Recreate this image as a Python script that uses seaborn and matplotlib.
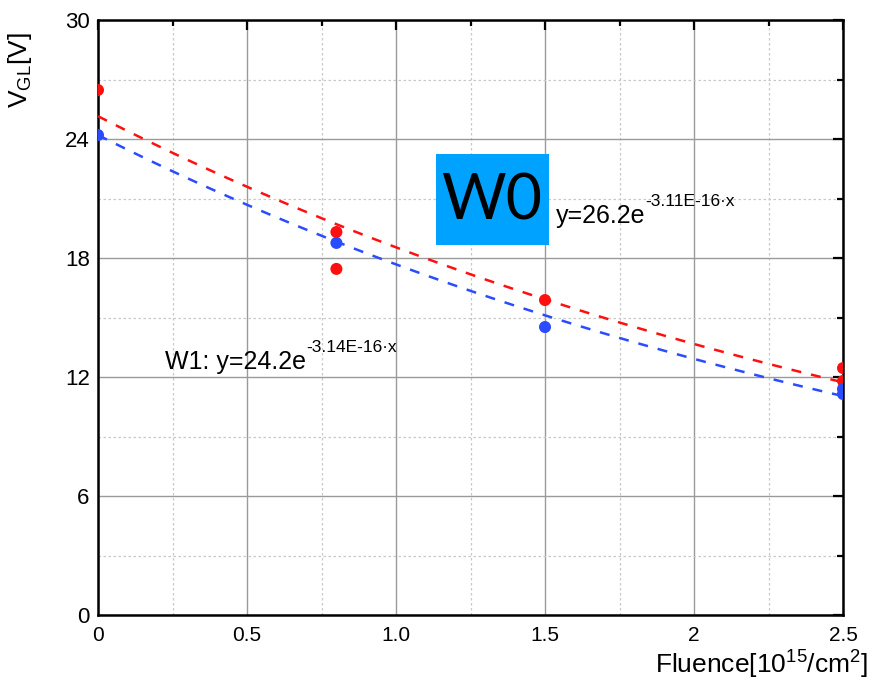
import numpy as np
import pandas as pd
import matplotlib
matplotlib.use("Agg")
import matplotlib.pyplot as plt
import seaborn as sns
from matplotlib.ticker import MultipleLocator, FixedLocator, FixedFormatter
from matplotlib.patches import Rectangle

# ---- data ----
w0_x = [0.0, 0.8, 0.8, 1.5, 2.5, 2.5]
w0_y = [26.47, 19.31, 17.45, 15.88, 12.45, 11.80]
w1_x = [0.0, 0.8, 1.5, 2.5, 2.5]
w1_y = [24.20, 18.76, 14.52, 11.40, 11.14]

# fitted exponential curves (amplitude, decay per 1e15 cm^-2) as drawn
w0_fit = (25.15, 0.305)
w1_fit = (24.20, 0.314)

x_ticks = [0, 0.5, 1.0, 1.5, 2.0, 2.5]
x_ticklabels = ["0", "0.5", "1.0", "1.5", "2", "2.5"]
y_ticks = [0, 6, 12, 18, 24, 30]

sns.set_theme(style="white")
plt.rcParams['font.family'] = ['Liberation Sans', 'DejaVu Sans']
plt.rcParams['mathtext.fontset'] = 'custom'
plt.rcParams['mathtext.rm'] = 'Liberation Sans'
plt.rcParams['mathtext.it'] = 'Liberation Sans'
plt.rcParams['text.color'] = 'black'
plt.rcParams['axes.labelcolor'] = 'black'
plt.rcParams['xtick.color'] = 'black'
plt.rcParams['ytick.color'] = 'black'

pts = pd.DataFrame({
    "x": w0_x + w1_x,
    "y": w0_y + w1_y,
    "s": ["W0"] * len(w0_x) + ["W1"] * len(w1_x),
})
xx = np.linspace(0, 2.5, 60)
fits = pd.DataFrame({
    "x": np.concatenate([xx, xx]),
    "y": np.concatenate([w0_fit[0] * np.exp(-w0_fit[1] * xx),
                         w1_fit[0] * np.exp(-w1_fit[1] * xx)]),
    "s": ["W0"] * len(xx) + ["W1"] * len(xx),
})
pal = {"W0": "#ff1010", "W1": "#2a4cff"}

fig = plt.figure(figsize=(8.77, 6.89), dpi=100)
ax = fig.add_axes([98/877, 74/689, 745/877, 595/689])

sns.lineplot(data=fits, x="x", y="y", hue="s", palette=pal, ax=ax,
             linewidth=1.8, legend=False, zorder=3)
for l in ax.lines:
    l.set_dashes([4, 4])
sns.scatterplot(data=pts, x="x", y="y", hue="s", palette=pal, ax=ax,
                s=75, edgecolor="none", legend=False, zorder=4)

ax.set_xlim(0, 2.5)
ax.set_ylim(0, 30)
ax.xaxis.set_major_locator(FixedLocator(x_ticks))
ax.xaxis.set_major_formatter(FixedFormatter(x_ticklabels))
ax.xaxis.set_minor_locator(MultipleLocator(0.25))
ax.yaxis.set_major_locator(FixedLocator(y_ticks))
ax.yaxis.set_minor_locator(MultipleLocator(3))

ax.grid(which="major", color="#9a9a9a", linewidth=1.0, linestyle="-")
ax.grid(which="minor", color="#c8c8c8", linewidth=0.9, linestyle=(0, (2, 2)))
ax.set_axisbelow(True)

for sp in ax.spines.values():
    sp.set_visible(True)
    sp.set_color("black")
    sp.set_linewidth(1.8)

ax.tick_params(which="both", direction="in", top=True, right=True,
               color="black", width=1.6)
ax.tick_params(which="major", length=7)
ax.tick_params(which="minor", length=4)
ax.tick_params(axis="y", labelsize=16, pad=6)
ax.tick_params(axis="x", labelsize=15, pad=8)

ax.set_xlabel("")
ax.set_ylabel("")
fig.text(20/877, 1 - 70/689, r"V$_{\mathrm{GL}}$[V]", rotation=90,
         ha="center", va="center", fontsize=19)

fig.text(868/877, 1 - 665/689, r"Fluence[10$^{15}$/cm$^{2}$]",
         ha="right", va="center", fontsize=19)

# W0 label box
fig.patches.append(Rectangle((436/877, 1 - 245/689), 113/877, 91/689,
                             transform=fig.transFigure, facecolor="#00a2ff",
                             edgecolor="none", zorder=5))
fig.text(492/877, 1 - 202/689, "W0", ha="center", va="center",
         fontsize=45, family=['Lato', 'Liberation Sans'], zorder=6)


def equation(x, y, main, sup):
    t = fig.text(x, y, main, ha="left", va="baseline", fontsize=18, zorder=6)
    ax.annotate(sup, xy=(1.0, 0.80), xycoords=t, ha="left", va="bottom",
                fontsize=12.5, annotation_clip=False, zorder=6)


equation(556/877, 1 - 223/689, "y=26.2e", "-3.11E-16\u00b7x")
equation(165/877, 1 - 369/689, "W1: y=24.2e", "-3.14E-16\u00b7x")

fig.savefig("out.png", dpi=100)
